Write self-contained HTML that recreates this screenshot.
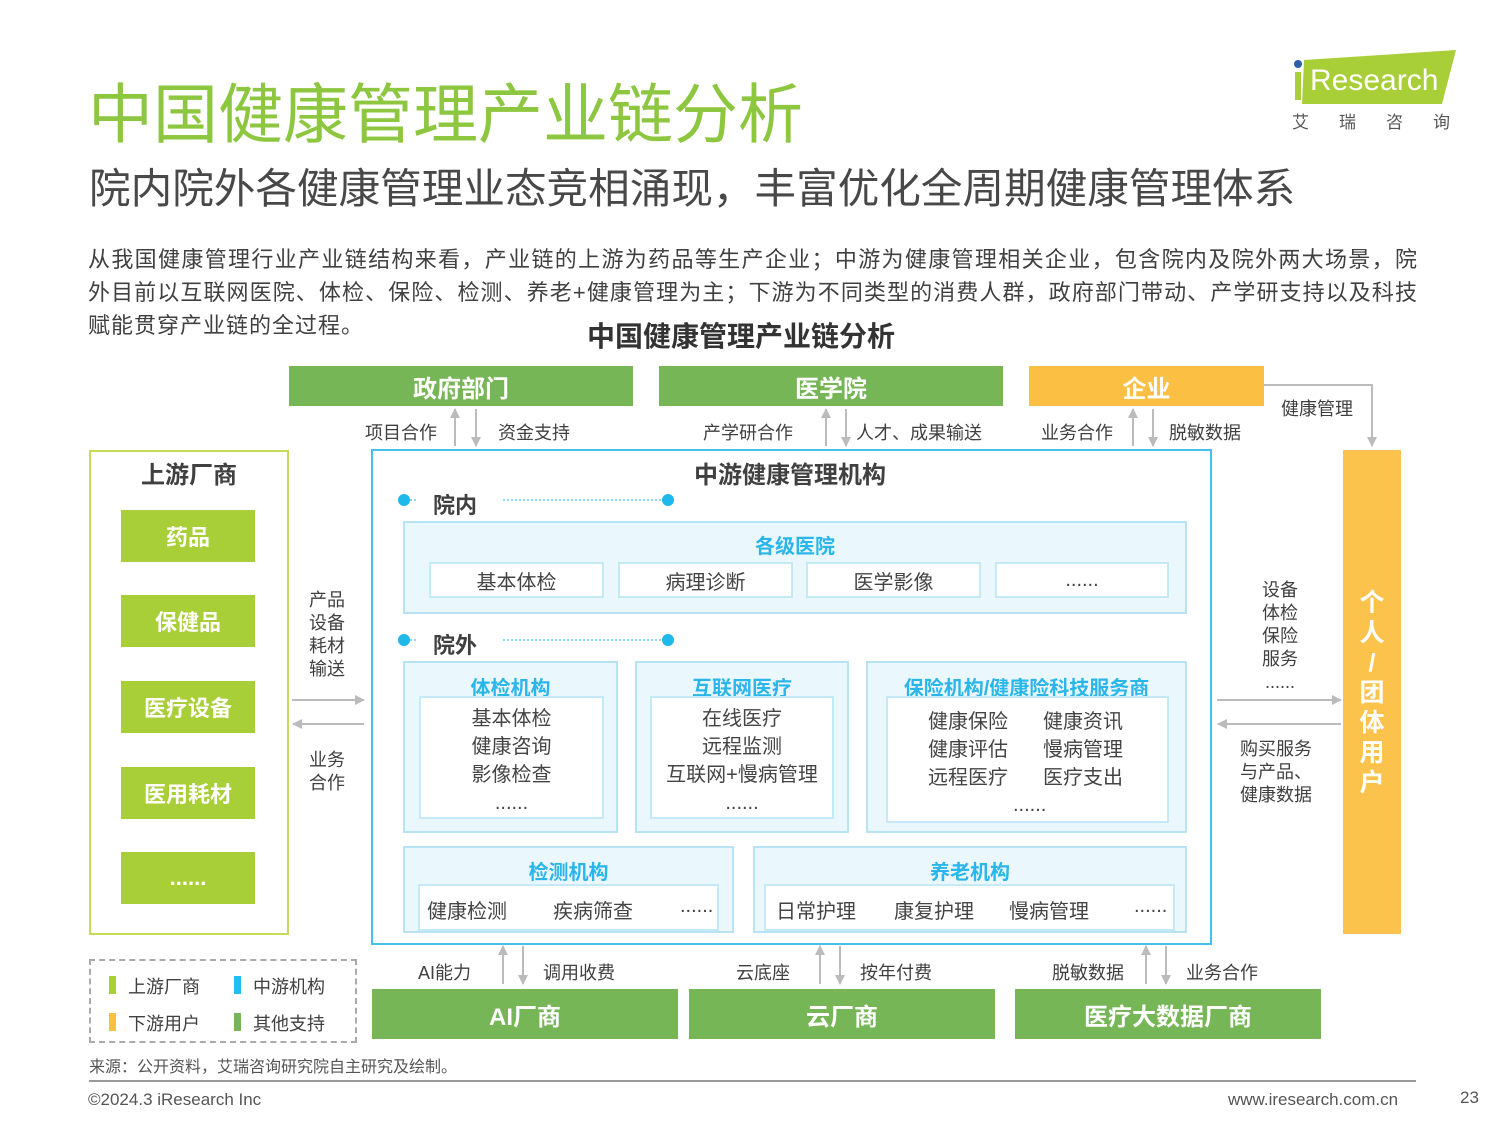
<!DOCTYPE html>
<html><head><meta charset="utf-8">
<style>
*{margin:0;padding:0;box-sizing:border-box}
body{width:1500px;height:1125px;background:#fff;position:relative;overflow:hidden;font-family:"Liberation Sans","Noto Sans CJK SC",sans-serif;color:#404040}
.a{position:absolute}
.c{position:absolute;display:flex;align-items:center;justify-content:center;text-align:center}
.g{background:#77b657;color:#fff;font-weight:bold;font-size:24px}
.l{background:#a9cf38;color:#fff;font-weight:bold;font-size:22px}
.bx{position:absolute;background:#eaf7fc;border:2px solid #b7e3f4}
.in{position:absolute;background:#fff;border:2px solid #c4e9f7}
.bt{position:absolute;color:#2ab6ea;font-weight:bold;font-size:20px;text-align:center}
.s{font-size:20px;color:#444}
.lab{position:absolute;font-size:18px;color:#404040;white-space:nowrap}
</style></head><body>
<div class="a" style="left:88px;top:62px;font-size:65px;color:#8dc63f;white-space:nowrap">中国健康管理产业链分析</div>
<div class="a" style="left:89px;top:155px;font-size:41.6px;color:#484848;white-space:nowrap">院内院外各健康管理业态竞相涌现，丰富优化全周期健康管理体系</div>
<!-- logo -->
<svg class="a" style="left:1290px;top:48px" width="168" height="60"><polygon points="14,12 166,2 152,56 12,56" fill="#a9cf38"/><circle cx="8" cy="16" r="4" fill="#2b5fa8"/><rect x="5" y="24" width="6" height="28" fill="#a9cf38"/><text x="20" y="42" font-family="Liberation Sans" font-size="30" fill="#fff">Research</text></svg>
<div class="a" style="left:1292px;top:108px;font-size:17px;color:#555;letter-spacing:30px;white-space:nowrap">艾瑞咨询</div>
<div class="a" style="left:88px;top:243px;width:1330px;font-size:22px;line-height:33px;color:#404040;text-align:justify;letter-spacing:1px">从我国健康管理行业产业链结构来看，产业链的上游为药品等生产企业；中游为健康管理相关企业，包含院内及院外两大场景，院外目前以互联网医院、体检、保险、检测、养老+健康管理为主；下游为不同类型的消费人群，政府部门带动、产学研支持以及科技赋能贯穿产业链的全过程。</div>
<div class="c" style="left:541px;top:316px;width:400px;height:38px;font-size:28px;font-weight:bold;color:#333">中国健康管理产业链分析</div>
<!-- top boxes -->
<div class="c g" style="left:289px;top:366px;width:344px;height:40px">政府部门</div>
<div class="c g" style="left:659px;top:366px;width:344px;height:40px">医学院</div>
<div class="c g" style="left:1029px;top:366px;width:235px;height:40px;background:#fbbf44">企业</div>
<div class="lab" style="left:365px;top:419px">项目合作</div><div class="lab" style="left:498px;top:419px">资金支持</div>
<div class="lab" style="left:703px;top:419px">产学研合作</div><div class="lab" style="left:856px;top:419px">人才、成果输送</div>
<div class="lab" style="left:1041px;top:419px">业务合作</div><div class="lab" style="left:1169px;top:419px">脱敏数据</div>
<div class="lab" style="left:1281px;top:395px">健康管理</div>
<!-- upstream -->
<div class="a" style="left:89px;top:450px;width:200px;height:485px;border:2px solid #c4dc5a"></div>
<div class="c" style="left:89px;top:456px;width:200px;height:32px;font-size:24px;font-weight:bold;color:#404040">上游厂商</div>
<div class="c l" style="left:121px;top:510px;width:134px;height:52px">药品</div>
<div class="c l" style="left:121px;top:595px;width:134px;height:52px">保健品</div>
<div class="c l" style="left:121px;top:681px;width:134px;height:52px">医疗设备</div>
<div class="c l" style="left:121px;top:767px;width:134px;height:52px">医用耗材</div>
<div class="c l" style="left:121px;top:852px;width:134px;height:52px">......</div>
<div class="a" style="left:309px;top:589px;font-size:18px;line-height:23px;color:#404040">产品<br>设备<br>耗材<br>输送</div>
<div class="a" style="left:309px;top:749px;font-size:18px;line-height:23px;color:#404040">业务<br>合作</div>
<!-- midstream -->
<div class="a" style="left:371px;top:449px;width:841px;height:496px;border:2px solid #45c0ea"></div>
<div class="c" style="left:590px;top:456px;width:400px;height:32px;font-size:24px;font-weight:bold;color:#404040">中游健康管理机构</div>
<div class="a" style="left:433px;top:488px;font-size:22px;font-weight:bold;color:#404040">院内</div>
<div class="a" style="left:433px;top:628px;font-size:22px;font-weight:bold;color:#404040">院外</div>
<div class="bx" style="left:403px;top:521px;width:784px;height:93px"></div>
<div class="bt" style="left:403px;top:530px;width:784px">各级医院</div>
<div class="c in s" style="left:429px;top:562px;width:175px;height:36px">基本体检</div>
<div class="c in s" style="left:618px;top:562px;width:175px;height:36px">病理诊断</div>
<div class="c in s" style="left:806px;top:562px;width:175px;height:36px">医学影像</div>
<div class="c in s" style="left:995px;top:562px;width:174px;height:36px">......</div>
<div class="bx" style="left:403px;top:661px;width:215px;height:172px"></div>
<div class="bt" style="left:403px;top:672px;width:215px">体检机构</div>
<div class="in" style="left:419px;top:696px;width:185px;height:123px"></div>
<div class="a s" style="left:419px;top:705px;width:185px;text-align:center;line-height:28px">基本体检<br>健康咨询<br>影像检查<br>......</div>
<div class="bx" style="left:635px;top:661px;width:214px;height:172px"></div>
<div class="bt" style="left:635px;top:672px;width:214px">互联网医疗</div>
<div class="in" style="left:650px;top:696px;width:184px;height:123px"></div>
<div class="a s" style="left:645px;top:705px;width:194px;text-align:center;line-height:28px">在线医疗<br>远程监测<br>互联网+慢病管理<br>......</div>
<div class="bx" style="left:866px;top:661px;width:321px;height:172px"></div>
<div class="bt" style="left:866px;top:672px;width:321px">保险机构/健康险科技服务商</div>
<div class="in" style="left:886px;top:696px;width:283px;height:127px"></div>
<div class="a s" style="left:928px;top:708px;line-height:28px">健康保险<br>健康评估<br>远程医疗</div>
<div class="a s" style="left:1043px;top:708px;line-height:28px">健康资讯<br>慢病管理<br>医疗支出</div>
<div class="a s" style="left:1013px;top:794px">......</div>
<div class="bx" style="left:403px;top:846px;width:331px;height:87px"></div>
<div class="bt" style="left:403px;top:856px;width:331px">检测机构</div>
<div class="in" style="left:418px;top:884px;width:301px;height:47px"></div>
<div class="a s" style="left:427px;top:895px">健康检测</div><div class="a s" style="left:553px;top:895px">疾病筛查</div><div class="a s" style="left:680px;top:895px">......</div>
<div class="bx" style="left:753px;top:846px;width:434px;height:87px"></div>
<div class="bt" style="left:753px;top:856px;width:434px">养老机构</div>
<div class="in" style="left:764px;top:884px;width:411px;height:47px"></div>
<div class="a s" style="left:776px;top:895px">日常护理</div><div class="a s" style="left:894px;top:895px">康复护理</div><div class="a s" style="left:1009px;top:895px">慢病管理</div><div class="a s" style="left:1134px;top:895px">......</div>
<!-- downstream -->
<div class="a" style="left:1343px;top:450px;width:58px;height:484px;background:#fbc24c"></div>
<div class="a" style="left:1343px;top:588px;width:58px;text-align:center;color:#fff;font-weight:bold;font-size:25px;line-height:30px">个<br>人<br>/<br>团<br>体<br>用<br>户</div>
<div class="a" style="left:1250px;top:579px;width:60px;text-align:center;font-size:18px;line-height:23px;color:#404040">设备<br>体检<br>保险<br>服务<br>......</div>
<div class="a" style="left:1240px;top:738px;font-size:18px;line-height:23px;color:#404040">购买服务<br>与产品、<br>健康数据</div>
<!-- legend -->
<div class="a" style="left:89px;top:959px;width:268px;height:84px;border:2px dashed #aaa"></div>
<div class="a" style="left:109px;top:976px;width:7px;height:18px;background:#a9cf38"></div><div class="lab" style="left:128px;top:973px">上游厂商</div>
<div class="a" style="left:234px;top:976px;width:7px;height:18px;background:#1fc0ee"></div><div class="lab" style="left:253px;top:973px">中游机构</div>
<div class="a" style="left:109px;top:1013px;width:7px;height:18px;background:#fbbf44"></div><div class="lab" style="left:128px;top:1010px">下游用户</div>
<div class="a" style="left:234px;top:1013px;width:7px;height:18px;background:#77b657"></div><div class="lab" style="left:253px;top:1010px">其他支持</div>
<!-- bottom boxes -->
<div class="c g" style="left:372px;top:989px;width:306px;height:50px">AI厂商</div>
<div class="c g" style="left:689px;top:989px;width:306px;height:50px">云厂商</div>
<div class="c g" style="left:1015px;top:989px;width:306px;height:50px">医疗大数据厂商</div>
<div class="lab" style="left:418px;top:959px">AI能力</div><div class="lab" style="left:543px;top:959px">调用收费</div>
<div class="lab" style="left:736px;top:959px">云底座</div><div class="lab" style="left:860px;top:959px">按年付费</div>
<div class="lab" style="left:1052px;top:959px">脱敏数据</div><div class="lab" style="left:1186px;top:959px">业务合作</div>
<div class="a" style="left:89px;top:1053px;font-size:16px;color:#555">来源：公开资料，艾瑞咨询研究院自主研究及绘制。</div>
<div class="a" style="left:89px;top:1080px;width:1327px;height:2px;background:#999"></div>
<div class="a" style="left:88px;top:1090px;font-size:17px;color:#555">©2024.3 iResearch Inc</div>
<div class="a" style="left:1228px;top:1090px;font-size:17px;color:#555">www.iresearch.com.cn</div>
<div class="a" style="left:1460px;top:1088px;font-size:17px;color:#555">23</div>
<!-- arrows -->
<svg class="a" style="left:0;top:0" width="1500" height="1125">
<defs><marker id="m" markerWidth="10" markerHeight="10" refX="9" refY="5" orient="auto" markerUnits="userSpaceOnUse"><path d="M0,0 L10,5 L0,10 z" fill="#bbb"/></marker></defs>
<g stroke="#bbb" stroke-width="2" fill="none" marker-end="url(#m)">
<line x1="455" y1="446" x2="455" y2="409"/><line x1="476" y1="409" x2="476" y2="446"/>
<line x1="826" y1="446" x2="826" y2="409"/><line x1="846" y1="409" x2="846" y2="446"/>
<line x1="1133" y1="446" x2="1133" y2="409"/><line x1="1153" y1="409" x2="1153" y2="446"/>
<polyline points="1264,385 1372,385 1372,446"/>
<line x1="292" y1="700" x2="364" y2="700"/><line x1="364" y1="724" x2="293" y2="724"/>
<line x1="1217" y1="700" x2="1341" y2="700"/><line x1="1341" y1="724" x2="1218" y2="724"/>
<line x1="503" y1="984" x2="503" y2="946"/><line x1="523" y1="946" x2="523" y2="984"/>
<line x1="820" y1="984" x2="820" y2="946"/><line x1="840" y1="946" x2="840" y2="984"/>
<line x1="1146" y1="984" x2="1146" y2="946"/><line x1="1166" y1="946" x2="1166" y2="984"/>
</g>
<g fill="#1fb8ea"><circle cx="404" cy="500" r="6"/><circle cx="668" cy="500" r="6"/><circle cx="404" cy="640" r="6"/><circle cx="668" cy="640" r="6"/></g>
<g stroke="#6ccdf0" stroke-width="1.5" stroke-dasharray="2,2"><line x1="410" y1="500" x2="418" y2="500"/><line x1="503" y1="500" x2="662" y2="500"/><line x1="410" y1="640" x2="418" y2="640"/><line x1="503" y1="640" x2="662" y2="640"/></g>
</svg>
</body></html>
